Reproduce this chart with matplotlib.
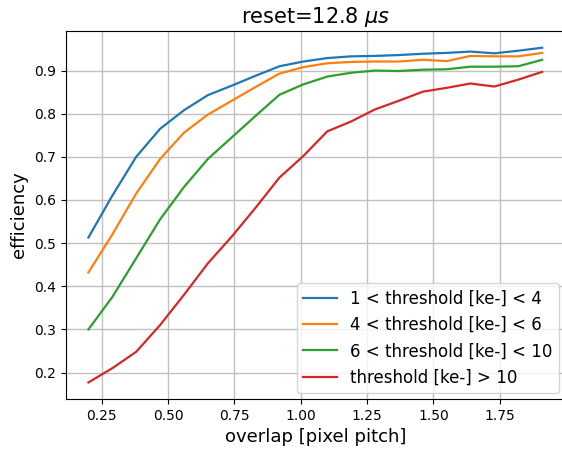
import numpy as np
from matplotlib import pyplot

# overlap values in units of pixel pitch
overlap = [0.20, 0.29, 0.38, 0.47, 0.56, 0.65, 0.74, 0.83, 0.92, 1.01,
           1.10, 1.19, 1.28, 1.37, 1.46, 1.55, 1.64, 1.73, 1.82, 1.91]

eff_1_4 = [0.513, 0.610, 0.700, 0.765, 0.808, 0.843, 0.865, 0.888, 0.910, 0.921,
           0.929, 0.933, 0.934, 0.936, 0.939, 0.941, 0.944, 0.940, 0.946, 0.953]
eff_4_6 = [0.432, 0.520, 0.615, 0.695, 0.756, 0.798, 0.830, 0.862, 0.893, 0.908,
           0.917, 0.920, 0.921, 0.921, 0.925, 0.922, 0.934, 0.933, 0.933, 0.941]
eff_6_10 = [0.300, 0.375, 0.465, 0.555, 0.630, 0.695, 0.745, 0.795, 0.844, 0.868,
            0.886, 0.895, 0.900, 0.899, 0.902, 0.903, 0.909, 0.909, 0.910, 0.925]
eff_10 = [0.177, 0.210, 0.248, 0.310, 0.380, 0.453, 0.515, 0.582, 0.652, 0.702,
          0.759, 0.782, 0.810, 0.830, 0.851, 0.860, 0.870, 0.863, 0.879, 0.897]

labels = ['1 < threshold [ke-] < 4',
          '4 < threshold [ke-] < 6',
          '6 < threshold [ke-] < 10',
          'threshold [ke-] > 10']


def main():
    '''Plot efficiency vs overlap per threshold bin.'''
    fig = pyplot.figure(figsize=(5.62, 4.49), dpi=100)
    # axes run slightly past the right edge of the canvas
    ax = fig.add_axes([0.117, 0.111, 0.888, 0.82])
    for eff, label in zip([eff_1_4, eff_4_6, eff_6_10, eff_10], labels):
        ax.plot(overlap, eff, label=label, lw=1.6)
    ax.grid(True, lw=1.0, color='#c0c0c0')
    ax.set_axisbelow(True)
    ax.set_title(r'reset=12.8 $\mu s$', fontsize=15)
    ax.set_xlabel('overlap [pixel pitch]', fontsize=13)
    ax.set_ylabel('efficiency', fontsize=13)
    ax.set_xticks(np.arange(0.25, 1.8, 0.25))
    ax.legend(loc='lower right', fontsize=12, borderaxespad=0.35)
    fig.savefig('out.png')


if __name__ == '__main__':
    main()
